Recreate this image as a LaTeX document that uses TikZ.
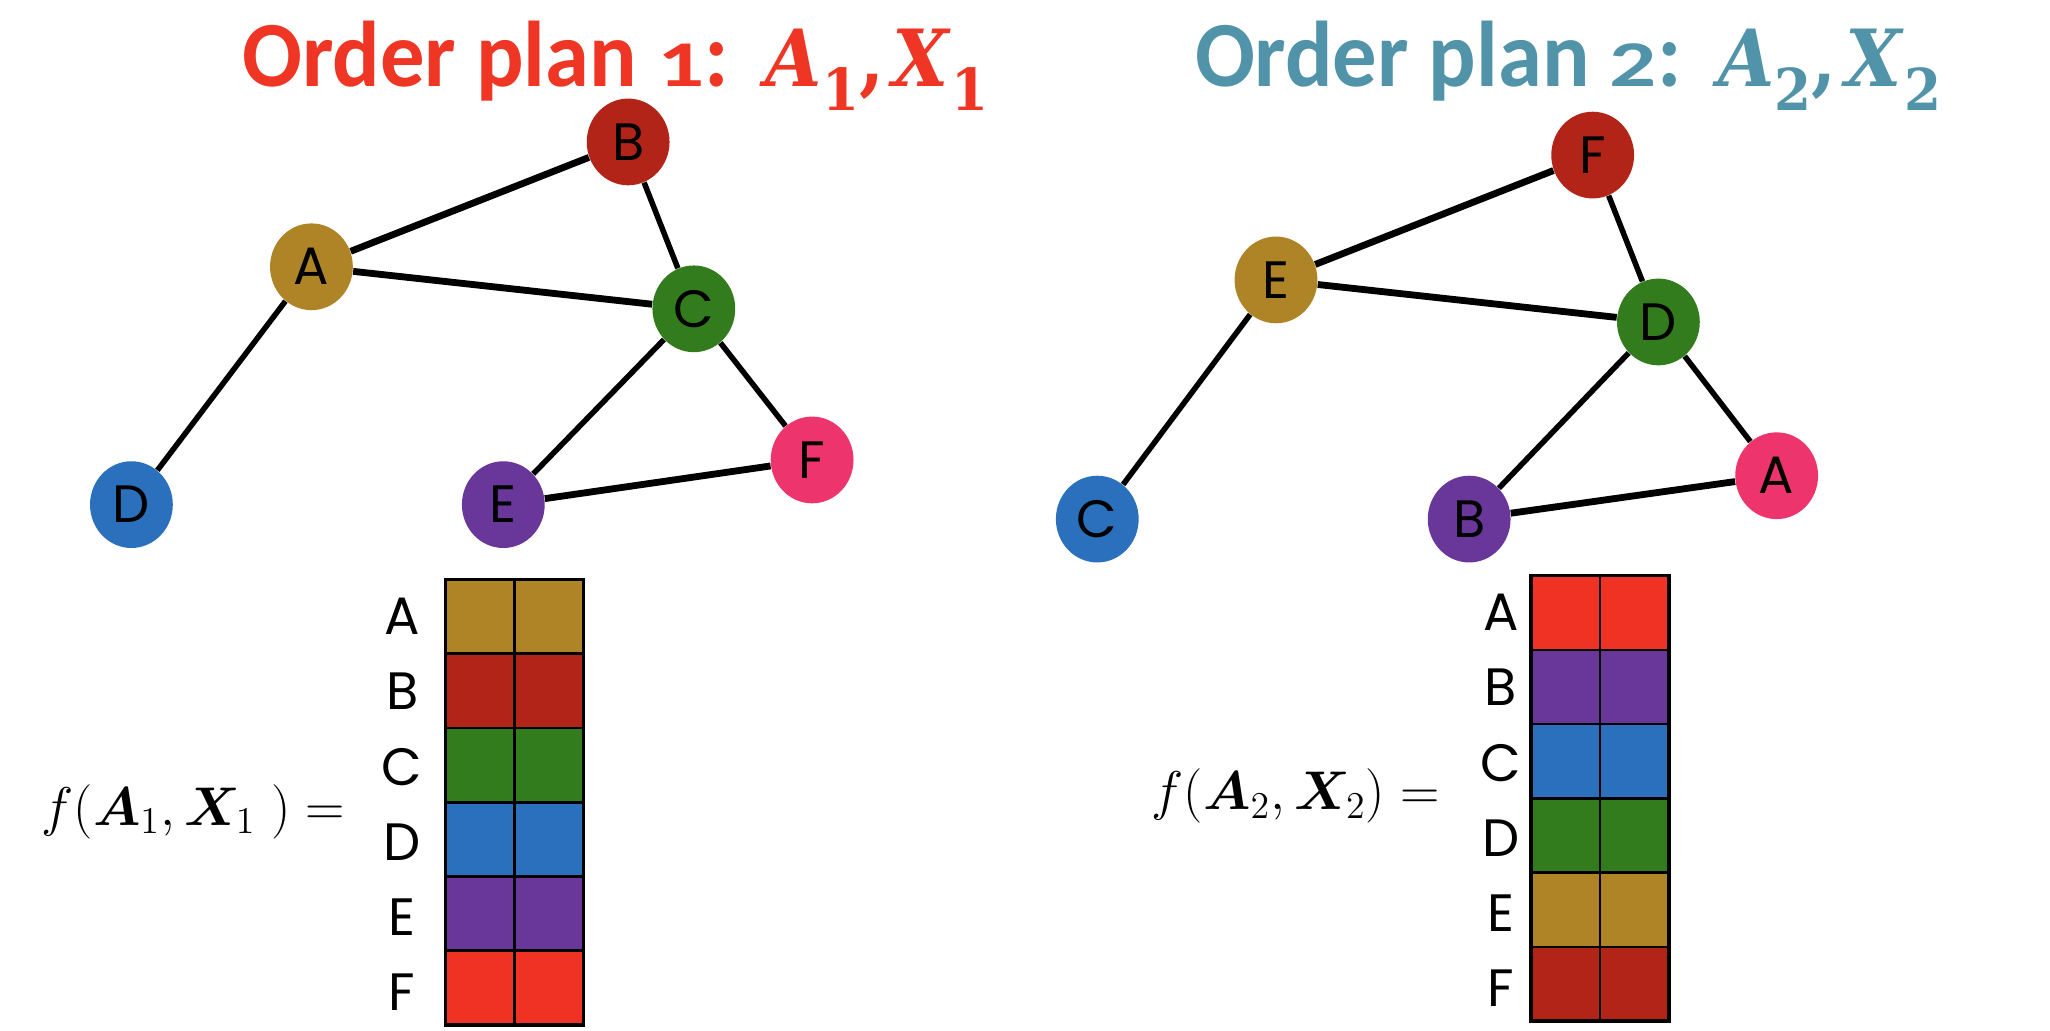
\documentclass[tikz,border=0pt]{standalone}
\usepackage{amsmath,bm}
\usepackage{graphicx}
\usepackage{fontspec}
\setmainfont{Poppins}
\newfontfamily\titlefont[FakeStretch=0.95]{Carlito}
\newfontfamily\tserif[FakeStretch=0.92]{DejaVu Serif}
\usetikzlibrary{shapes.geometric}
\definecolor{cgold}{HTML}{AE8427}
\definecolor{cred}{HTML}{B22418}
\definecolor{cgreen}{HTML}{337C1D}
\definecolor{cblue}{HTML}{2A70BC}
\definecolor{cpurple}{HTML}{69369A}
\definecolor{cpink}{HTML}{EE346C}
\definecolor{corange}{HTML}{F03224}
\definecolor{tred}{HTML}{EF3523}
\definecolor{tteal}{HTML}{5193A9}
\newcommand\smallnum[1]{\scalebox{1.05}[0.7]{#1}}
\newcommand\tvar[1]{{\tserif\bfseries\itshape\fontsize{30}{30}\selectfont #1}}
\newcommand\tsub[1]{\raisebox{-9pt}{\tserif\bfseries\fontsize{22}{22}\selectfont #1}}
\newcommand\tcomma{{\tserif\bfseries\fontsize{30}{30}\selectfont ,}}
\tikzset{
  titletext/.style={font=\titlefont\bfseries\fontsize{35.5}{40}\selectfont, inner sep=0pt},
  gnode/.style={ellipse, inner sep=0pt, minimum width=31.5pt, minimum height=33pt, font=\fontsize{20}{20}\selectfont},
  edge/.style={line width=2.1pt, black},
  thick edge/.style={line width=2.6pt, black},
  tlabel/.style={font=\fontsize{20}{20}\selectfont, inner sep=0pt},
  formula/.style={font=\fontsize{22}{22}\selectfont, inner sep=0pt},
  cellline/.style={line width=1pt, black},
  celloutline/.style={line width=1.4pt, black}
}
\begin{document}
\begin{tikzpicture}[x=0.5pt,y=-0.5pt]
\useasboundingbox[fill=white] (0,0) rectangle (1560,784);

% titles
\node[titletext, text=tred, anchor=base west] (t1) at (184,66)
  {Order plan \smallnum{1}:\hspace{4pt} \tvar{A}\tsub{1}\tcomma\hspace{3pt}\tvar{X}\hspace{1pt}\tsub{1}};
\node[titletext, text=tteal, anchor=base west] (t2) at (909,66)
  {Order plan \smallnum{2}:\hspace{4pt} \tvar{A}\tsub{2}\tcomma\hspace{3pt}\tvar{X}\hspace{1pt}\tsub{2}};

% graph 1
\node[gnode, fill=cred] (B1) at (478,108) {B};
\node[gnode, fill=cgold] (A1) at (237,203) {A};
\node[gnode, fill=cgreen] (C1) at (528,235) {C};
\node[gnode, fill=cblue] (D1) at (100,384) {D};
\node[gnode, fill=cpurple] (E1) at (383,384) {E};
\node[gnode, fill=cpink] (F1) at (618,350) {F};
\draw[thick edge] (A1) -- (B1);
\draw[edge] (B1) -- (C1);
\draw[thick edge] (A1) -- (C1);
\draw[edge] (A1) -- (D1);
\draw[edge] (C1) -- (E1);
\draw[edge] (C1) -- (F1);
\draw[thick edge] (E1) -- (F1);

% graph 2
\node[gnode, fill=cred] (F2) at (1212,118) {F};
\node[gnode, fill=cgold] (E2) at (971,213) {E};
\node[gnode, fill=cgreen] (D2) at (1262,245) {D};
\node[gnode, fill=cblue] (C2) at (835,395) {C};
\node[gnode, fill=cpurple] (B2) at (1118,395) {B};
\node[gnode, fill=cpink] (A2) at (1352,362) {A};
\draw[thick edge] (E2) -- (F2);
\draw[edge] (F2) -- (D2);
\draw[thick edge] (E2) -- (D2);
\draw[edge] (E2) -- (C2);
\draw[edge] (D2) -- (B2);
\draw[edge] (D2) -- (A2);
\draw[thick edge] (B2) -- (A2);

% table 1
\foreach \c [count=\i from 0] in {cgold,cred,cgreen,cblue,cpurple,corange} {
  \fill[\c] (339,{441+\i*56.5}) rectangle (444,{441+(\i+1)*56.5});
  \draw[cellline] (339,{441+\i*56.5}) -- (444,{441+\i*56.5});
}
\draw[cellline] (391.5,441) -- (391.5,780);
\draw[celloutline] (339,441) rectangle (444,780);
\foreach \l [count=\i from 0] in {A,B,C,D,E,F} {
  \node[tlabel] (ta\l) at (306,{469+\i*57.2}) {\l};
}
\node[formula] (f1) at (147,618) {$f(\bm{A}_1,\bm{X}_1\ ) =$};

% table 2
\foreach \c [count=\i from 0] in {corange,cpurple,cblue,cgreen,cgold,cred} {
  \fill[\c] (1165,{438+\i*56.5}) rectangle (1270,{438+(\i+1)*56.5});
  \draw[cellline] (1165,{438+\i*56.5}) -- (1270,{438+\i*56.5});
}
\draw[cellline] (1217.5,438) -- (1217.5,777);
\draw[celloutline] (1165,438) rectangle (1270,777);
\foreach \l [count=\i from 0] in {A,B,C,D,E,F} {
  \node[tlabel] (tb\l) at (1142,{466+\i*57.2}) {\l};
}
\node[formula] (f2) at (986,606) {$f(\bm{A}_2,\bm{X}_2) =$};
\end{tikzpicture}
\end{document}
